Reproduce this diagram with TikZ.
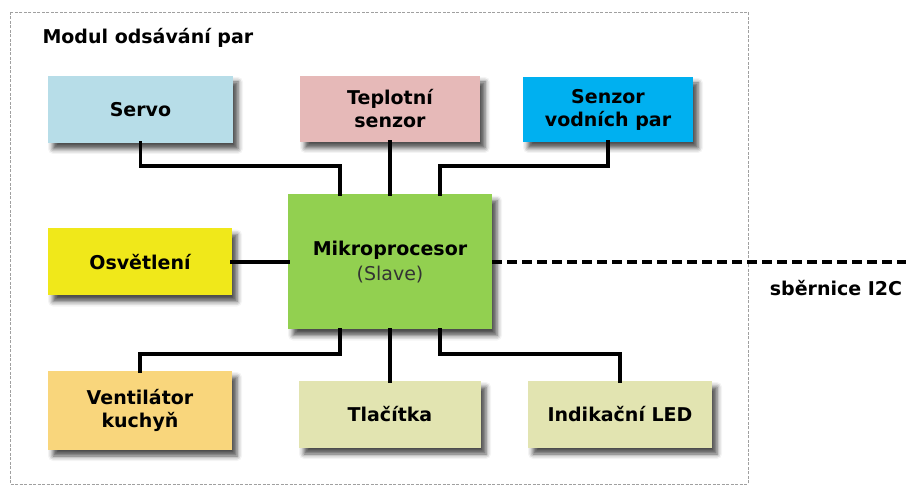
\documentclass[tikz,border=0pt]{standalone}
\usepackage{fontspec}
\setmainfont{DejaVu Sans}
\usetikzlibrary{shadows.blur,calc}
\definecolor{cservo}{HTML}{B7DDE8}
\definecolor{cteplo}{HTML}{E6B9B8}
\definecolor{cvodni}{HTML}{00B0F0}
\definecolor{cmikro}{HTML}{92D050}
\definecolor{cosvet}{HTML}{F0E81A}
\definecolor{cvent}{HTML}{F9D67C}
\definecolor{cpale}{HTML}{E2E4B1}
\definecolor{cframe}{HTML}{A0A0A0}
\definecolor{cslave}{HTML}{333333}
\tikzset{
  txt/.style={font=\fontsize{19}{23}\selectfont\bfseries},
  blk/.style={rectangle, inner sep=2pt, align=center, txt,
    blur shadow={shadow xshift=5pt, shadow yshift=-6pt, shadow blur radius=5pt, shadow opacity=70}},
  conn/.style={line width=3.5pt, line cap=rect},
  bus/.style={line width=3.5pt, dash pattern=on 10pt off 5pt},
  frame/.style={draw=cframe, line width=0.9pt, dash pattern=on 3pt off 1.5pt},
}
\begin{document}
\begin{tikzpicture}[x=1pt,y=-1pt]
\useasboundingbox (0,0) rectangle (906,486);
\draw[frame] (10,12) rectangle (748,484);
\node[anchor=west, txt] (title) at (39,38) {Modul odsávání par};
\node[blk, fill=cservo, minimum width=185pt, minimum height=67pt] (servo) at (140.5,109.5) {Servo};
\node[blk, fill=cteplo, minimum width=180pt, minimum height=66pt] (teplo) at (390,109) {Teplotní\\senzor};
\node[blk, fill=cvodni, minimum width=170pt, minimum height=65pt] (vodni) at (608,109.5) {Senzor\\vodních par};
\node[blk, fill=cmikro, minimum width=204pt, minimum height=135pt, font=\fontsize{19}{25}\selectfont\bfseries] (mikro) at (390,262) {Mikroprocesor\\{\fontseries{m}\selectfont\color{cslave}(Slave)}};
\node[blk, fill=cosvet, minimum width=184pt, minimum height=67pt] (osvet) at (140,262) {Osvětlení};
\node[blk, fill=cvent, minimum width=184pt, minimum height=79pt] (vent) at (140,410.5) {Ventilátor\\kuchyň};
\node[blk, fill=cpale, minimum width=182pt, minimum height=67pt] (tlac) at (390,414.5) {Tlačítka};
\node[blk, fill=cpale, minimum width=184pt, minimum height=67pt] (led) at (620,414.5) {Indikační LED};
\coordinate (busend) at (906,262);
\node[txt] (buslabel) at (836,288) {sběrnice I2C};
\draw[conn] (servo.south) -- ++(0,23) -| ([xshift=-50pt]mikro.north);
\draw[conn] (teplo.south) -- (mikro.north);
\draw[conn] (vodni.south) -- ++(0,24) -| ([xshift=50pt]mikro.north);
\draw[conn] (osvet.east) -- (mikro.west);
\draw[conn] (vent.north) -- ++(0,-17) -| ([xshift=-50pt]mikro.south);
\draw[conn] (mikro.south) -- (tlac.north);
\draw[conn] (led.north) -- ++(0,-27) -| ([xshift=50pt]mikro.south);
\draw[bus] (mikro.east) -- (busend);
\end{tikzpicture}
\end{document}
